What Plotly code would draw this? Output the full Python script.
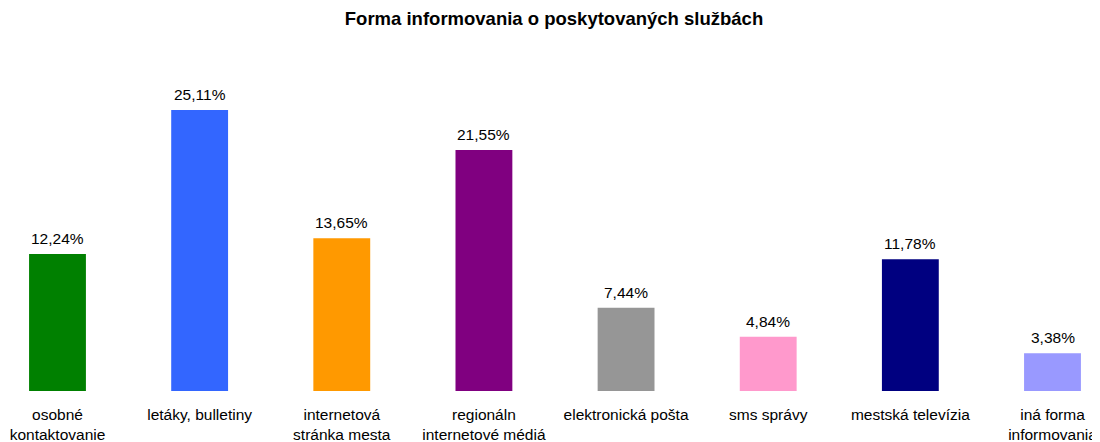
import plotly.graph_objects as go

categories = ["osobné<br>kontaktovanie", "letáky, bulletiny", "internetová<br>stránka mesta",
              "regionáln<br>internetové médiá", "elektronická pošta", "sms správy",
              "mestská televízia", "iná forma<br>informovania"]
values = [12.24, 25.11, 13.65, 21.55, 7.44, 4.84, 11.78, 3.38]
colors = ["#008000", "#3366FF", "#FF9900", "#800080", "#969696", "#FF99CC", "#000080", "#9999FF"]
title = "Forma informovania o poskytovaných službách"

FONT = "Liberation Sans, Arial, sans-serif"
xs = list(range(len(categories)))

fig = go.Figure(go.Bar(
    x=xs,
    y=values,
    marker=dict(color=colors, line=dict(width=0)),
    width=0.4,
    cliponaxis=False,
))

for x, v in zip(xs, values):
    fig.add_annotation(x=x, y=v, xref="x", yref="y", text=f"{v:.2f}".replace(".", ",") + "%",
                       showarrow=False, yanchor="bottom", xanchor="center", yshift=5,
                       font=dict(family=FONT, size=15.5, color="#000000"))

fig.update_layout(
    width=1092, height=434,
    margin=dict(l=0, r=0, t=32, b=51),
    paper_bgcolor="white", plot_bgcolor="white",
    showlegend=False,
    title=dict(text="<b>" + title + "</b>", x=0.5, xanchor="center", y=1 - 11 / 434, yanchor="middle",
               font=dict(family=FONT, size=18.5, color="#000000")),
    xaxis=dict(tickmode="array", tickvals=xs, ticktext=categories,
               range=[-0.3482, 7.3342], showgrid=False, zeroline=False, showline=False, ticks="",
               ticklabelstandoff=12,
               tickfont=dict(family=FONT, size=15.5, color="#000000")),
    yaxis=dict(range=[0, 31.37], visible=False, showgrid=False, zeroline=False),
    font=dict(family=FONT),
)

fig.write_html("out.html")
